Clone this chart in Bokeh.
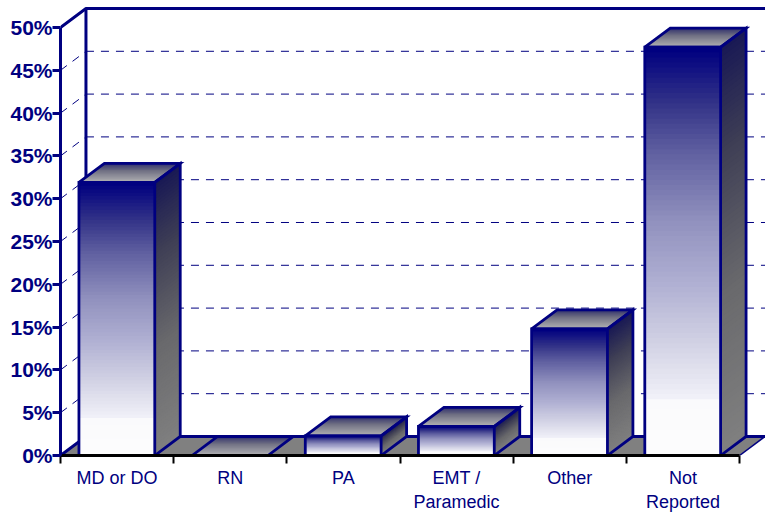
from bokeh.embed import file_html
from bokeh.resources import INLINE
from bokeh.plotting import figure
from bokeh.models import FixedTicker, Range1d

categories = ["MD or DO", "RN", "PA", "EMT /\nParamedic", "Other", "Not\nReported"]
values = [31.9, 0.0, 2.3, 3.4, 14.8, 47.7]
y_ticks = [0, 5, 10, 15, 20, 25, 30, 35, 40, 45, 50]

NAVY = "#000080"
FONT = "Liberation Sans"
BAR_L, BAR_R = 0.163, 0.833      # bar extent inside a category slot
DX, DY = 0.225, 2.22             # 3-D depth in data units
XMAX, YMAX = 705 / 113.17, 450 / 8.56

front_stops = [(0, (0, 0, 128)), (.13, (50, 50, 135)), (.25, (95, 95, 160)), (.42, (145, 145, 190)),
               (.57, (175, 175, 210)), (.72, (210, 210, 228)), (.85, (240, 240, 248)),
               (.86, (250, 250, 252)), (1, (253, 253, 253))]
side_stops = [(0, (25, 25, 85)), (.25, (62, 62, 85)), (.6, (105, 105, 108)), (1, (128, 128, 128))]
top_stops = [(0, (50, 50, 110)), (.35, (110, 110, 130)), (1, (182, 182, 182))]


def shade(stops, t):
    for (a, ca), (b, cb) in zip(stops, stops[1:]):
        if t <= b:
            f = (t - a) / (b - a)
            c = [round(x + (y - x) * f) for x, y in zip(ca, cb)]
            return "#%02x%02x%02x" % tuple(c)
    return "#%02x%02x%02x" % stops[-1][1]


p = figure(width=765, height=514, output_backend="svg", toolbar_location=None,
           x_range=Range1d(0, XMAX), y_range=Range1d(0, YMAX),
           min_border_left=60, min_border_right=0, min_border_top=5, min_border_bottom=59)
p.outline_line_color = None
p.grid.visible = False
p.background_fill_color = "white"

# floor
p.patch([0, 6, 6 + DX, DX], [0, 0, DY, DY], fill_color="#808080", line_color=None)
p.line([6, 6 + DX], [0, DY], line_color=NAVY, line_width=1.5)

# gridlines on the back wall and side wall
for t in y_ticks[1:-1]:
    p.line([DX, XMAX], [t + DY, t + DY], line_color=NAVY, line_width=1, line_dash="8 7")
    p.line([0, DX], [t, t + DY], line_color=NAVY, line_width=1, line_dash="8 7")

# walls
p.line([0, DX, XMAX], [50, 50 + DY, 50 + DY], line_color=NAVY, line_width=3)
p.line([DX, DX], [DY, 50 + DY], line_color=NAVY, line_width=3)
p.line([0, DX, XMAX], [0, DY, DY], line_color=NAVY, line_width=3)

# bars
N = 80
for i, v in enumerate(values):
    l, r = i + BAR_L, i + BAR_R
    if v > 0:
        xs, ys, cols = [], [], []
        xs2, ys2, cols2 = [], [], []
        for k in range(N):
            t = k / N
            y = v * (1 - t)
            xs.append([l, r, r, l])
            ys.append([0, 0, y, y])
            cols.append(shade(front_stops, t))
            xs2.append([r, r + DX, r + DX, r])
            ys2.append([0, DY, y + DY, y])
            cols2.append(shade(side_stops, t))
        p.patches(xs, ys, fill_color=cols, line_color=None)
        p.patches(xs2, ys2, fill_color=cols2, line_color=None)
    xs3, ys3, cols3 = [], [], []
    M = 20
    for k in range(M):
        t = k / M
        f = 1 - t
        xs3.append([l, r, r + DX * f, l + DX * f])
        ys3.append([v, v, v + DY * f, v + DY * f])
        cols3.append(shade(top_stops, t))
    p.patches(xs3, ys3, fill_color=cols3, line_color=None)
    outline = dict(line_color=NAVY, line_width=2.8, line_join="miter")
    if v > 0:
        p.line([l, r, r, l, l], [0, 0, v, v, 0], **outline)
        p.line([r, r + DX, r + DX, r], [0, DY, v + DY, v], **outline)
    p.line([l, l + DX, r + DX, r, l], [v, v + DY, v + DY, v, v], **outline)

# axes
ya = p.yaxis[0]
ya.ticker = FixedTicker(ticks=y_ticks)
ya.bounds = (0, 50)
ya.major_label_overrides = {t: f"{t}%" for t in y_ticks}
ya.axis_line_color = NAVY
ya.axis_line_width = 3
ya.major_tick_line_color = NAVY
ya.major_tick_line_width = 3
ya.major_tick_in = 0
ya.major_tick_out = 8
ya.minor_tick_line_color = None
ya.major_label_standoff = 0
ya.major_label_text_font = FONT
ya.major_label_text_font_size = "21px"
ya.major_label_text_font_style = "bold"
ya.major_label_text_color = NAVY

xa = p.xaxis[0]
centers = [i + 0.5 for i in range(len(categories))]
xa.ticker = FixedTicker(ticks=centers, minor_ticks=list(range(len(categories) + 1)))
xa.bounds = (0, 6)
xa.major_label_overrides = dict(zip(centers, categories))
xa.axis_line_color = "black"
xa.axis_line_width = 3
xa.major_tick_line_color = None
xa.major_tick_in = 0
xa.major_tick_out = 0
xa.minor_tick_line_color = "black"
xa.minor_tick_line_width = 2
xa.minor_tick_in = 0
xa.minor_tick_out = 8
xa.major_label_standoff = 4
xa.major_label_text_font = FONT
xa.major_label_text_font_size = "18px"
xa.major_label_text_color = NAVY

open("out.html", "w").write(file_html(p, INLINE))
